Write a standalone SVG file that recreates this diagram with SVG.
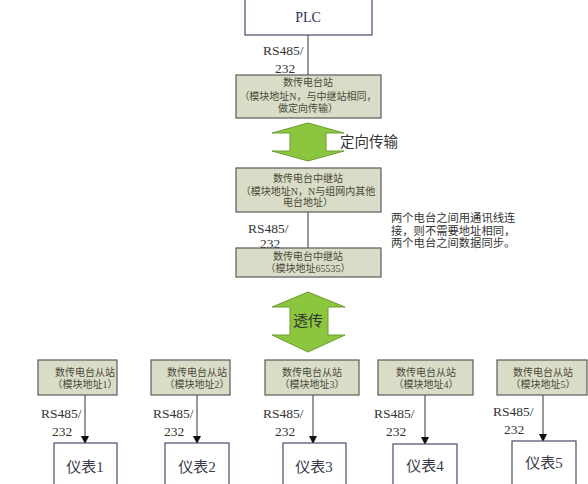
<svg xmlns="http://www.w3.org/2000/svg" width="588" height="484" viewBox="0 0 588 484">
<defs>
<marker id="ah" markerWidth="8" markerHeight="8" refX="7" refY="4" orient="auto" markerUnits="userSpaceOnUse">
<path d="M0,0 L8,4 L0,8 Z" fill="#111"/>
</marker>
</defs>
<style>
.bx{fill:#d9dcc6;stroke:#5a5a5a;stroke-width:1.2}
.wb{fill:#ffffff;stroke:#4a4a6e;stroke-width:1.2}
.ln{stroke:#333;stroke-width:1;fill:none}
.bt{font-family:"Liberation Serif","Noto Sans CJK SC",serif;font-size:10px;fill:#4a4a3a;text-anchor:middle}
.rs{font-family:"Liberation Serif","Noto Sans CJK SC",serif;font-size:13.5px;fill:#333}
.big{font-family:"Liberation Serif","Noto Sans CJK SC",serif;font-size:15px;fill:#3a3a4a;text-anchor:middle}
.nt{font-family:"Liberation Serif","Noto Sans CJK SC",serif;font-size:11.3px;fill:#333}
.ar{fill:#8cc63f;stroke:#6a9e30;stroke-width:1}
</style>
<rect width="588" height="484" fill="#ffffff"/>

<g id="connectors">
<line class="ln" x1="308" y1="35" x2="308" y2="75"/>
<line class="ln" x1="308" y1="212" x2="308" y2="248"/>
<line class="ln" x1="85" y1="395" x2="85" y2="443" marker-end="url(#ah)"/>
<line class="ln" x1="197" y1="395" x2="197" y2="443" marker-end="url(#ah)"/>
<line class="ln" x1="313" y1="395" x2="313" y2="443" marker-end="url(#ah)"/>
<line class="ln" x1="425" y1="395" x2="425" y2="444" marker-end="url(#ah)"/>
<line class="ln" x1="543" y1="395" x2="543" y2="441" marker-end="url(#ah)"/>
<text class="rs" x="263" y="55">RS485/</text>
<text class="rs" x="275" y="73">232</text>
<text class="rs" x="248" y="233">RS485/</text>
<text class="rs" x="260" y="248">232</text>
<text class="rs" x="41" y="418">RS485/</text>
<text class="rs" x="52" y="436">232</text>
<text class="rs" x="153" y="418">RS485/</text>
<text class="rs" x="164" y="436">232</text>
<text class="rs" x="263" y="418">RS485/</text>
<text class="rs" x="275" y="436">232</text>
<text class="rs" x="374" y="418">RS485/</text>
<text class="rs" x="386" y="436">232</text>
<text class="rs" x="493" y="416">RS485/</text>
<text class="rs" x="504" y="434">232</text>
</g>

<g id="plc">
<rect class="wb" x="245" y="-5" width="127" height="40"/>
<text x="308" y="22" font-family="Liberation Serif, serif" font-size="14" fill="#2c2c5e" text-anchor="middle">PLC</text>
</g>

<g id="station">
<rect class="bx" x="236" y="75" width="145" height="43"/>
<text class="bt" x="308" y="86">数传电台站</text>
<text class="bt" x="308" y="100">（模块地址N，与中继站相同，</text>
<text class="bt" x="308" y="112">做定向传输）</text>
</g>

<g id="arrow-directional">
<polygon class="ar" points="308,123 344,133 326,133 326,151 344,151 308,161 272,151 290,151 290,133 272,133"/>
<text x="340" y="147" font-family="Liberation Serif, 'Noto Sans CJK SC', serif" font-size="14.5" fill="#333">定向传输</text>
</g>

<g id="relay1">
<rect class="bx" x="236" y="168" width="145" height="44"/>
<text class="bt" x="308" y="182">数传电台中继站</text>
<text class="bt" x="308" y="195">（模块地址N，N与组网内其他</text>
<text class="bt" x="308" y="206">电台地址）</text>
</g>

<g id="relay2">
<rect class="bx" x="236" y="248" width="145" height="29"/>
<text class="bt" x="308" y="260">数传电台中继站</text>
<text class="bt" x="308" y="272">（模块地址65535）</text>
</g>

<g id="note">
<text class="nt" x="391" y="222">两个电台之间用通讯线连</text>
<text class="nt" x="391" y="235">接，则不需要地址相同，</text>
<text class="nt" x="391" y="247">两个电台之间数据同步。</text>
</g>

<g id="arrow-transparent">
<polygon class="ar" points="308,292 345,307 328,307 328,335 345,335 308,352 272,335 290,335 290,307 272,307"/>
<text x="308" y="326" font-family="Liberation Serif, 'Noto Sans CJK SC', serif" font-size="15" fill="#333" text-anchor="middle">透传</text>
</g>

<g id="slave1">
<rect class="bx" x="38" y="360" width="79" height="35"/>
<text class="bt" x="85" y="376">数传电台从站</text>
<text class="bt" x="85" y="388">（模块地址1）</text>
</g>
<g id="slave2">
<rect class="bx" x="151" y="360" width="79" height="35"/>
<text class="bt" x="197" y="376">数传电台从站</text>
<text class="bt" x="197" y="388">（模块地址2）</text>
</g>
<g id="slave3">
<rect class="bx" x="265" y="360" width="94" height="35"/>
<text class="bt" x="312" y="376">数传电台从站</text>
<text class="bt" x="312" y="388">（模块地址3）</text>
</g>
<g id="slave4">
<rect class="bx" x="378" y="360" width="95" height="35"/>
<text class="bt" x="426" y="376">数传电台从站</text>
<text class="bt" x="426" y="388">（模块地址4）</text>
</g>
<g id="slave5">
<rect class="bx" x="497" y="360" width="90" height="35"/>
<text class="bt" x="543" y="376">数传电台从站</text>
<text class="bt" x="543" y="388">（模块地址5）</text>
</g>

<g id="meter1">
<rect class="wb" x="54" y="443" width="63" height="50"/>
<text class="big" x="85" y="472">仪表1</text>
</g>
<g id="meter2">
<rect class="wb" x="165" y="443" width="64" height="50"/>
<text class="big" x="197" y="472">仪表2</text>
</g>
<g id="meter3">
<rect class="wb" x="283" y="443" width="63" height="50"/>
<text class="big" x="314" y="472">仪表3</text>
</g>
<g id="meter4">
<rect class="wb" x="393" y="444" width="64" height="50"/>
<text class="big" x="425" y="471">仪表4</text>
</g>
<g id="meter5">
<rect class="wb" x="512" y="441" width="64" height="50"/>
<text class="big" x="544" y="468">仪表5</text>
</g>
</svg>
